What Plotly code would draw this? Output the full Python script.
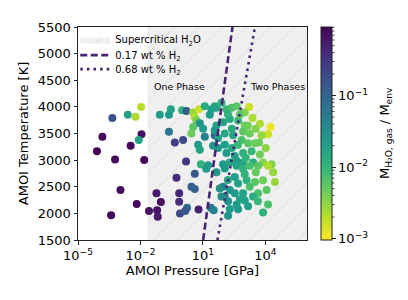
import numpy as np
import plotly.graph_objects as go

# ---- data (log10 pressure [GPa], temperature [K], log10 mass ratio)
log_p = [-1.97, -2.61, -2.24, -3.35, -3.83, -1.95, -2.08, -2.47, -4.09, -3.22,
         -1.82, -2.96, -2.18, -1.59, -3.41,
         -1.23, -1.02, -1.20, -1.17, -0.27, 0.19, 0.61, -0.14, -0.14, -0.10,
         0.45, 0.61, 0.24, 0.15, 0.79, 0.90, 1.16, 1.65, 1.38, 1.52,
         -1.07, -0.54, -0.63, 0.00, 0.21, 0.53, 0.82, 0.61, 0.69, 1.09,
         1.41, 1.33, 1.57, 0.85, 0.53, 1.01, 0.45, -0.63, -0.35, 0.05,
         1.09, 0.77, 1.57, 0.85, 1.49, 1.25,
         1.65, 1.89, 2.13, 2.38, 2.62, 3.22, 3.01, 3.38, 3.74, 4.25,
         4.13, 3.82, 3.70, 3.25, 3.01, 2.69, 2.29, 1.97, 1.65, 1.57,
         2.45, 2.86, 2.05, 1.73, 3.17, 3.34, 2.93, 2.53, 2.13, 3.74,
         3.89, 4.30, 3.41, 2.93, 1.97, 2.62, 2.05, 2.62, 2.93, 3.25,
         3.65, 4.13, 4.38, 3.89, 4.46, 3.50, 3.10, 2.69, 2.53, 1.97,
         2.29, 2.53, 2.93, 3.65, 4.06, 3.41, 2.05, 3.01, 2.21, 2.62,
         3.17, 4.13, 3.89, 2.69, 2.21, 1.81, 1.89,
         2.20, 2.78, 2.39, 3.16, 3.54, 2.68, 3.50, 4.02, 2.39, 3.06,
         2.29, 3.54, 3.01, 2.20, 3.25, 2.78, 3.64, 2.29, 1.73, 2.93, 2.05]
temperature = [3996, 3851, 3814, 3791, 3440, 3487, 3378, 3269, 3167, 3014,
               3003, 2440, 2178, 2045, 1967,
               2378, 2214, 2058, 1936, 2669, 2973, 2742, 2378, 2218, 1996,
               2500, 2458, 2105, 2045, 2073, 2923, 2836, 2773, 2105, 2058,
               3851, 3954, 3851, 3936, 3923, 3894, 3954, 3803, 3742, 4014,
               3954, 3851, 4014, 3694, 3622, 3591, 3500, 3531, 3331, 3378,
               3440, 3287, 3469, 3196, 3269, 2905,
               3985, 4076, 3954, 3985, 4014, 3996, 3894, 3791, 3682, 3622,
               3487, 3469, 3331, 3500, 3651, 3742, 3773, 3712, 3651, 3560,
               3469, 3378, 3287, 3227, 3318, 3167, 3136, 3076, 3136, 3105,
               2954, 2923, 2954, 2954, 2923, 2985, 2845, 2894, 2833, 2894,
               2894, 2894, 2773, 2622, 2591, 2591, 2622, 2560, 2682, 2500,
               2440, 2378, 2378, 2378, 2440, 2318, 2318, 2240, 2227, 2167,
               2136, 2167, 2015, 2076, 1955, 2469, 2318,
               3863, 3863, 3591, 3645, 3591, 3282, 3318, 3227, 3227, 3045,
               2954, 2773, 2736, 2627, 2500, 2264, 2227, 2082, 3409, 3536, 3500]
log_ratio = [-2.7, -1.75, -2.65, -0.8, -0.1, -0.15, -1.75, -0.1, -0.05, -0.1,
             -0.1, -0.12, -0.1, -0.2, -0.1,
             -0.25, -0.1, -0.2, -0.25, -0.4, -0.5, -0.85, -0.35, -0.45, -0.7,
             -0.9, -0.95, -1.1, -0.85, -0.3, -1.95, -1.65, -1.6, -1.2, -1.35,
             -1.7, -1.75, -1.65, -1.95, -0.9, -2.55, -2.8, -2.65, -2.35, -1.85,
             -1.75, -1.65, -1.8, -1.55, -2.25, -1.65, -2.35, -1.2, -0.6, -0.7,
             -1.35, -1.65, -1.0, -1.75, -1.6, -1.65,
             -1.75, -1.95, -2.05, -2.15, -2.25, -2.8, -2.45, -2.65, -2.65, -2.95,
             -2.8, -2.55, -2.35, -2.35, -2.35, -2.05, -1.85, -1.75, -1.75, -1.65,
             -1.75, -2.15, -1.7, -1.65, -2.25, -2.05, -1.95, -1.75, -1.65, -2.35,
             -2.45, -2.45, -1.85, -1.75, -1.65, -1.7, -1.65, -1.75, -1.95, -2.15,
             -2.25, -2.65, -2.55, -2.35, -2.55, -2.25, -1.95, -1.75, -1.7, -1.35,
             -1.6, -1.65, -1.75, -2.15, -2.25, -1.85, -1.35, -1.7, -1.55, -1.65,
             -1.7, -2.15, -1.95, -1.65, -1.6, -1.55, -1.55,
             -1.95, -2.25, -1.85, -2.35, -2.45, -2.05, -2.35, -2.5, -1.85, -2.0,
             -1.8, -2.3, -2.0, -1.8, -2.15, -1.75, -2.05, -1.7, -1.75, -2.25, -1.8]

# H2 solubility lines (log10 pressure at given temperatures)
h2_T = [1500, 5500]
h2_017_logp = [1.01, 2.42]
h2_068_logp = [1.70, 3.50]

p_crit = 0.022  # GPa, supercritical water
ratio_min, ratio_max = -3.02, -0.04

line_color = "#482475"
font = "DejaVu Sans"

fig = go.Figure()

# supercritical region
fig.add_trace(go.Scatter(
    x=[p_crit, 1e7, 1e7, p_crit, p_crit], y=[1000, 1000, 6000, 6000, 1000],
    mode="lines", fill="toself", line=dict(width=0),
    fillcolor="#f0f0f0",
    fillpattern=dict(shape="/", bgcolor="#f0f0f0", fgcolor="#d6d6d6", size=17, solidity=0.07),
    name="Supercritical H<sub>2</sub>O", hoverinfo="skip", legend="legend"))

fig.add_trace(go.Scatter(
    x=[10 ** v for v in log_p], y=temperature, mode="markers",
    marker=dict(size=8, color=log_ratio, colorscale="Viridis", reversescale=True,
                cmin=ratio_min, cmax=ratio_max, line=dict(width=0),
                colorbar=dict(
                    x=(321 - 78) / 229, xanchor="left", xpad=0, ypad=0,
                    y=0.5, yanchor="middle", len=1, lenmode="fraction",
                    thickness=11, outlinewidth=1, outlinecolor="#222",
                    tickvals=[-3, -2, -1],
                    ticktext=["10<sup>−3</sup>", "10<sup>−2</sup>", "10<sup>−1</sup>"],
                    ticks="outside", ticklen=3.5, tickcolor="#222",
                    tickfont=dict(family=font, size=13, color="#000"))),
    showlegend=False))

fig.add_trace(go.Scatter(
    x=[10 ** v for v in h2_017_logp], y=h2_T, mode="lines",
    line=dict(color=line_color, width=2.6, dash="7px,3.5px"),
    name="0.17 wt % H<sub>2</sub>", legend="legend2"))
fig.add_trace(go.Scatter(
    x=[10 ** v for v in h2_068_logp], y=h2_T, mode="lines",
    line=dict(color=line_color, width=2.6, dash="2.6px,4px"),
    name="0.68 wt % H<sub>2</sub>", legend="legend3"))

# minor ticks on colorbar
shapes = []
for dec in [-3, -2, -1]:
    for m in range(2, 10):
        v = dec + np.log10(m)
        if v <= ratio_max:
            yp = (v - ratio_min) / (ratio_max - ratio_min)
            shapes.append(dict(type="line", xref="paper", yref="paper",
                               x0=(332 - 78) / 229, x1=(334.5 - 78) / 229, y0=yp, y1=yp,
                               line=dict(color="#222", width=0.8)))

legend_common = dict(xanchor="left", yanchor="middle", bgcolor="rgba(0,0,0,0)",
                     font=dict(size=10), itemwidth=30)
legend_x = -0.012

# the page body adds an 8px offset, so the figure is 8px smaller on each axis
fig.update_layout(
    width=400, height=292,
    margin=dict(l=70, r=101, t=12, b=60),
    paper_bgcolor="white", plot_bgcolor="white",
    font=dict(family=font, size=13, color="#000"),
    shapes=shapes,
    xaxis=dict(type="log", range=[-5, 6],
               tickvals=[1e-5, 1e-2, 1e1, 1e4],
               ticktext=["10<sup>−5</sup>", "10<sup>−2</sup>", "10<sup>1</sup>", "10<sup>4</sup>"],
               ticks="outside", ticklen=3.5, tickcolor="#222",
               showline=True, linecolor="#222", linewidth=1, mirror=True,
               showgrid=False, zeroline=False,
               title=dict(text="AMOI Pressure [GPa]", standoff=2, font=dict(size=13))),
    yaxis=dict(range=[1500, 5500], tickvals=list(range(1500, 5501, 500)),
               ticks="outside", ticklen=3.5, tickcolor="#222",
               showline=True, linecolor="#222", linewidth=1, mirror=True,
               showgrid=False, zeroline=False,
               title=dict(text="AMOI Temperature [K]", standoff=6, font=dict(size=13))),
    legend=dict(x=legend_x, y=(240 - 33) / 220, **legend_common),
    legend2=dict(x=legend_x, y=(240 - 49) / 220, **legend_common),
    legend3=dict(x=legend_x, y=(240 - 63.5) / 220, **legend_common),
    annotations=[
        dict(text="One Phase", x=-0.11, y=4380, xref="x", yref="y",
             showarrow=False, font=dict(size=9.5)),
        dict(text="Two Phases", x=4.6, y=4380, xref="x", yref="y",
             showarrow=False, font=dict(size=9.5)),
        dict(text="M<sub>H₂O, gas</sub> / M<sub>env</sub>", textangle=-90,
             x=(396 - 78) / 229, y=0.5, xref="paper", yref="paper",
             showarrow=False, font=dict(size=13)),
    ],
)

fig.write_html("out.html")
